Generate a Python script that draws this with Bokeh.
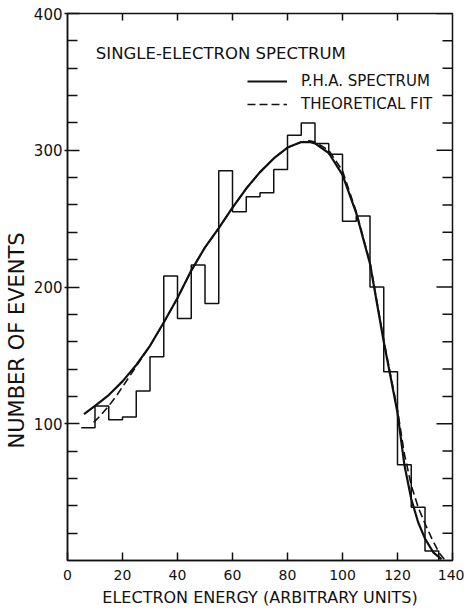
import math
from bokeh.plotting import figure
from bokeh.models import Range1d, LinearAxis, FixedTicker, Label, Legend, LegendItem, Title
from bokeh.embed import file_html
from bokeh.resources import INLINE

# ---- data ----
bin_left = [5, 10, 15, 20, 25, 30, 35, 40, 45, 50, 55, 60, 65, 70, 75, 80, 85, 90, 95,
            100, 105, 110, 115, 120, 125, 130]
bin_width = 5
counts = [97, 113, 103, 105, 124, 149, 208, 177, 216, 188, 285, 255, 266, 269, 286, 311,
          320, 305, 297, 248, 252, 200, 138, 70, 39, 7]

pha_x = [6, 10, 15, 20, 25, 30, 35, 40, 45, 50, 55, 60, 65, 70, 75, 80, 85, 88, 90, 95,
         100, 105, 110, 115, 120, 122.5, 125, 127.5, 130, 133, 136]
pha_y = [107, 113, 121, 131, 143, 157, 174, 192, 212, 229, 243, 258, 272, 284, 294, 302,
         306, 306, 305, 298, 282, 254, 217, 160, 108, 70, 45, 28, 16, 6, 1]

fit_x = [9.5, 12, 15, 18, 21, 25, 30, 35, 40, 45, 50, 55, 60, 65, 70, 75, 80, 85, 88, 90,
         95, 100, 105, 110, 115, 120, 122.5, 125, 127.5, 130, 132.5, 135, 137]
fit_y = [101, 106, 113, 121, 130, 142, 157, 174, 192, 212, 229, 243, 258, 272, 284, 294,
         302, 306, 307, 306, 300, 285, 255, 218, 161, 110, 78, 55, 39, 27, 16, 6, 1]

x_ticks = [0, 20, 40, 60, 80, 100, 120, 140]
x_top_ticks = [20, 40, 60, 80, 100, 120]
y_major = [100, 200, 300, 400]
y_minor = [20, 40, 60, 80, 120, 140, 160, 180, 220, 240, 260, 280, 320, 340, 360, 380]

X_MIN, X_MAX = 0, 140
Y_MIN, Y_MAX = 0, 400

FONT = "DejaVu Sans"
INK = "#111111"

W, H = 464, 609
BL, BR, BT, BB = 67, 12, 13, 42

p = figure(width=W, height=H, output_backend="svg", toolbar_location=None,
           x_range=Range1d(X_MIN, X_MAX), y_range=Range1d(Y_MIN, Y_MAX),
           x_axis_location=None, y_axis_location=None,
           min_border_left=BL, min_border_right=BR, min_border_top=BT, min_border_bottom=BB)
p.xgrid.visible = False
p.ygrid.visible = False
p.outline_line_color = INK
p.outline_line_width = 1.5
p.background_fill_color = "white"
p.border_fill_color = "white"


def style_axis(ax):
    ax.axis_line_color = INK
    ax.axis_line_width = 1.5
    ax.major_tick_line_color = INK
    ax.major_tick_line_width = 1.5
    ax.minor_tick_line_color = INK
    ax.minor_tick_line_width = 1.5
    ax.major_label_text_font = FONT
    ax.major_label_text_color = INK
    ax.axis_label_text_font = FONT
    ax.axis_label_text_font_style = "normal"
    ax.axis_label_text_color = INK


# left axis
ya = LinearAxis(ticker=FixedTicker(ticks=y_major, minor_ticks=y_minor))
style_axis(ya)
ya.major_tick_in = 12
ya.major_tick_out = 3
ya.minor_tick_in = 10
ya.minor_tick_out = 0
ya.major_label_standoff = 2
ya.major_label_text_font_size = "15px"
p.add_layout(ya, "left")

# y axis title, shifted towards the bottom as in the reference
ytitle = Title(text="NUMBER OF EVENTS", align="left", offset=112, standoff=0,
               vertical_align="top", text_font=FONT, text_font_size="21px",
               text_font_style="normal", text_color=INK)
p.add_layout(ytitle, "left")

# bottom axis
xb = LinearAxis(ticker=FixedTicker(ticks=x_ticks, minor_ticks=[]),
                axis_label="ELECTRON ENERGY (ARBITRARY UNITS)")
style_axis(xb)
xb.major_tick_in = 8
xb.major_tick_out = 0
xb.minor_tick_in = 0
xb.minor_tick_out = 0
xb.major_label_standoff = 9
xb.major_label_text_font_size = "14px"
xb.axis_label_standoff = 5
xb.axis_label_text_font_size = "16px"
p.add_layout(xb, "below")

# inward tick marks on the right and top frame edges
x_per_px = (X_MAX - X_MIN) / (W - BL - BR)
y_per_px = (Y_MAX - Y_MIN) / (H - BT - BB)
p.segment(x0=[X_MAX] * len(y_minor), y0=y_minor,
          x1=[X_MAX - 10 * x_per_px] * len(y_minor), y1=y_minor,
          line_color=INK, line_width=1.5)
p.segment(x0=[X_MAX] * len(y_major), y0=y_major,
          x1=[X_MAX - 16 * x_per_px] * len(y_major), y1=y_major,
          line_color=INK, line_width=1.5)
p.segment(x0=x_top_ticks, y0=[Y_MAX] * len(x_top_ticks),
          x1=x_top_ticks, y1=[Y_MAX - 7 * y_per_px] * len(x_top_ticks),
          line_color=INK, line_width=1.5)

# histogram outline
edges = bin_left + [bin_left[-1] + bin_width]
levels = counts + [0]
p.step(x=edges, y=levels, mode="after", line_color=INK, line_width=1.5)

# curves
r_pha = p.line(pha_x, pha_y, line_color=INK, line_width=2.2)
r_fit = p.line(fit_x, fit_y, line_color=INK, line_width=1.6, line_dash="8 4")

# title inside plot
p.add_layout(Label(x=10.3, y=371, text="SINGLE-ELECTRON SPECTRUM",
                   text_font=FONT, text_font_size="16.5px", text_color=INK,
                   text_baseline="middle", text_align="left"))

legend = Legend(items=[LegendItem(label="P.H.A. SPECTRUM", renderers=[r_pha]),
                       LegendItem(label="THEORETICAL FIT", renderers=[r_fit])],
                location=(180, 446))
legend.label_text_font = FONT
legend.label_text_font_size = "15px"
legend.label_text_color = INK
legend.glyph_width = 40
legend.glyph_height = 20
legend.label_height = 20
legend.label_standoff = 14
legend.spacing = 3
legend.padding = 0
legend.margin = 0
legend.border_line_color = None
legend.background_fill_color = None
p.add_layout(legend, "center")

open("out.html", "w").write(file_html(p, INLINE))
